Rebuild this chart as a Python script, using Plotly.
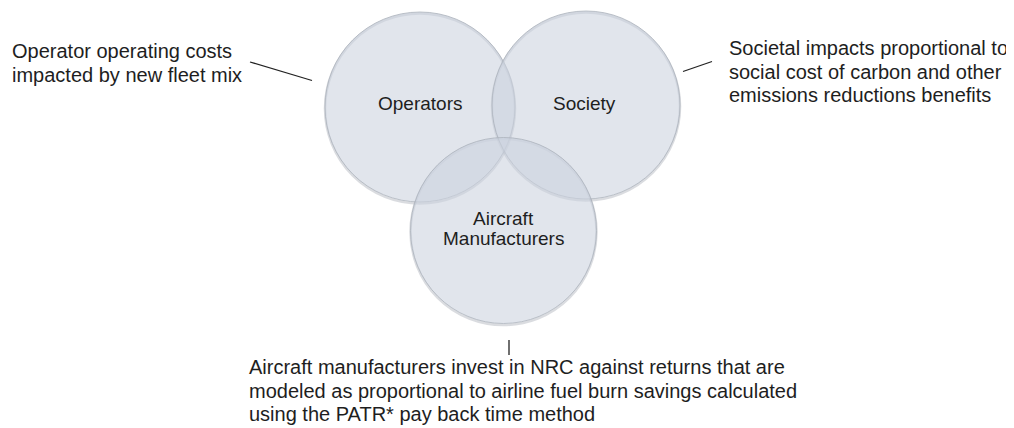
import plotly.graph_objects as go

# ---- data (text content) ----
circle_labels = ["Operators", "Society", "Aircraft<br>Manufacturers"]
left_note = ["Operator operating costs", "impacted by new fleet mix"]
right_note = ["Societal impacts proportional to",
              "social cost of carbon and other",
              "emissions reductions benefits"]
bottom_note = ["Aircraft manufacturers invest in NRC against returns that are",
               "modeled as proportional to airline fuel burn savings calculated",
               "using the PATR* pay back time method"]

W, H = 1014, 428
OFF = 8  # default page body margin
FONT = "Liberation Sans, Arial, sans-serif"
TXT = "#1e1e1e"

# layout geometry (reference pixel space)
circles = [(420, 107, 95), (586, 105, 94), (503.5, 230.5, 93)]
label_pos = [(420, 103), (584, 103), (503.5, 228.5)]

fig = go.Figure()
fig.add_trace(go.Scatter(x=[OFF, W], y=[OFF, H], mode="markers",
                         marker=dict(opacity=0), hoverinfo="skip", showlegend=False))

shapes = []
# soft shadows
for cx, cy, r in circles:
    shapes.append(dict(type="circle", xref="x", yref="y",
                       x0=cx - r, x1=cx + r, y0=cy - r + 1.5, y1=cy + r + 1.5,
                       line=dict(color="rgba(150,155,165,0.35)", width=2.5),
                       fillcolor="rgba(0,0,0,0)", layer="above"))
for cx, cy, r in circles:
    shapes.append(dict(type="circle", xref="x", yref="y",
                       x0=cx - r, x1=cx + r, y0=cy - r, y1=cy + r,
                       line=dict(color="rgba(170,176,186,0.75)", width=1),
                       fillcolor="rgba(204,211,223,0.58)", layer="above"))

# connector lines
shapes.append(dict(type="line", xref="x", yref="y", x0=250, y0=62, x1=312, y1=80.5,
                   line=dict(color="#222", width=1.3)))
shapes.append(dict(type="line", xref="x", yref="y", x0=683, y0=71.5, x1=712, y1=61.5,
                   line=dict(color="#222", width=1.3)))
shapes.append(dict(type="line", xref="x", yref="y", x0=509, y0=340, x1=509, y1=355,
                   line=dict(color="#222", width=1.3)))

annotations = []
LSP = 19.5
for (x, y), lab in zip(label_pos, circle_labels):
    parts = lab.split("<br>")
    n = len(parts)
    for i, p in enumerate(parts):
        yy = y + (i - (n - 1) / 2) * LSP
        annotations.append(dict(x=x, y=yy, xref="x", yref="y", text=p, showarrow=False,
                                xanchor="center", yanchor="middle",
                                font=dict(family=FONT, size=19, color=TXT)))

SP = 23.5
def add_lines(lines, x, y0):
    for i, t in enumerate(lines):
        annotations.append(dict(x=x, y=y0 + i * SP, xref="x", yref="y", text=t,
                                showarrow=False, xanchor="left", yanchor="middle",
                                font=dict(family=FONT, size=20, color=TXT)))

add_lines(left_note, 10, 51)
add_lines(right_note, 727, 48)
add_lines(bottom_note, 247, 367)

fig.update_layout(
    width=W - OFF, height=H - OFF, margin=dict(l=0, r=0, t=0, b=0),
    paper_bgcolor="white", plot_bgcolor="white",
    xaxis=dict(range=[OFF, W], visible=False, fixedrange=True),
    yaxis=dict(range=[H, OFF], visible=False, fixedrange=True),
    shapes=shapes, annotations=annotations, showlegend=False,
)
fig.write_html("out.html", config={"displayModeBar": False})
